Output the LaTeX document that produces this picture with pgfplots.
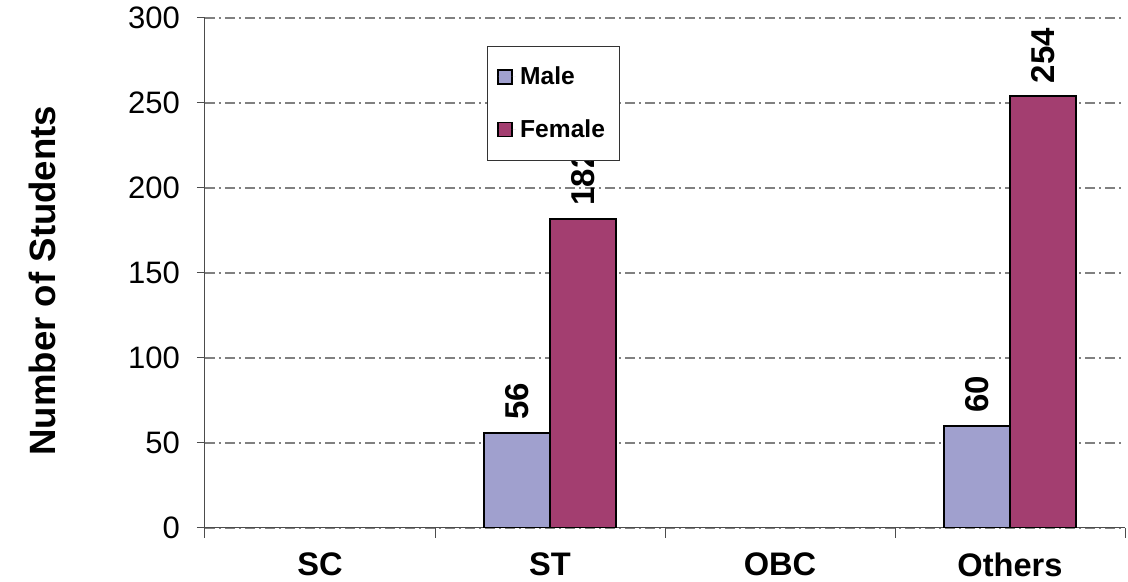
\documentclass[border=0pt]{standalone}
\usepackage{fontspec}
\setmainfont{Liberation Sans}
\usepackage{pgfplots}
\pgfplotsset{compat=1.18}
\definecolor{male}{RGB}{160,160,206}
\definecolor{female}{RGB}{163,62,112}
\begin{document}
\begin{tikzpicture}
	\begin{axis}[name=ax,
		width=460pt, height=255pt, scale only axis,
		ybar=0pt, bar width=0.287,
		xmin=-0.5, xmax=3.5, ymin=0, ymax=300,
		axis lines*=left,
		axis line style={black!70, line width=0.5pt},
		xtick={0,1,2,3},
		xticklabels={SC,ST,OBC,Others},
		minor xtick={-0.5,0.5,1.5,2.5,3.5},
		major x tick style={draw=none},
		minor tick length=5pt,
		ytick={0,50,...,300},
		major tick length=4pt,
		tick align=outside,
		tick style={black!70, line width=0.5pt},
		ymajorgrids,
		grid style={gray, line width=0.6pt, dash pattern=on 5pt off 2pt on 1pt off 2pt},
		/pgf/number format/assume math mode=true,
		xticklabel style={font=\fontsize{16.3}{18}\selectfont\bfseries, yshift=-5pt},
		yticklabel style={font=\fontsize{15.5}{18}\selectfont, xshift=-5pt},
		ylabel={Number of Students},
		ylabel style={font=\fontsize{18.3}{20}\selectfont\bfseries, at={(axis description cs:-0.177,0.485)}, anchor=center},
		nodes near coords,
		nodes near coords style={font=\fontsize{16.5}{18}\selectfont\bfseries, rotate=90, anchor=west, inner xsep=6pt},
		legend style={at={(0.3065,0.945)}, anchor=north west, draw=black!80, fill=white,
			font=\fontsize{12.3}{13}\selectfont\bfseries, inner xsep=5pt, inner ysep=8pt, row sep=12pt},
		legend cell align=left,
		legend image code/.code={\draw[#1, line width=0.8pt] (0pt,-3.5pt) rectangle (7pt,3.5pt); \path[draw=none] (0pt,0pt) -- (9pt,0pt);},
		]
		\addplot[fill=male, draw=black, line width=1pt] coordinates {(1,56) (3,60)};
		\addplot[fill=female, draw=black, line width=1pt] coordinates {(1,182) (3,254)};
		\legend{Male,Female}
	\end{axis}
	\pgfresetboundingbox
	\path[use as bounding box] ([xshift=-102.5pt,yshift=-27pt]ax.south west) rectangle ([xshift=1.5pt,yshift=9pt]ax.north east);
\end{tikzpicture}
\end{document}
